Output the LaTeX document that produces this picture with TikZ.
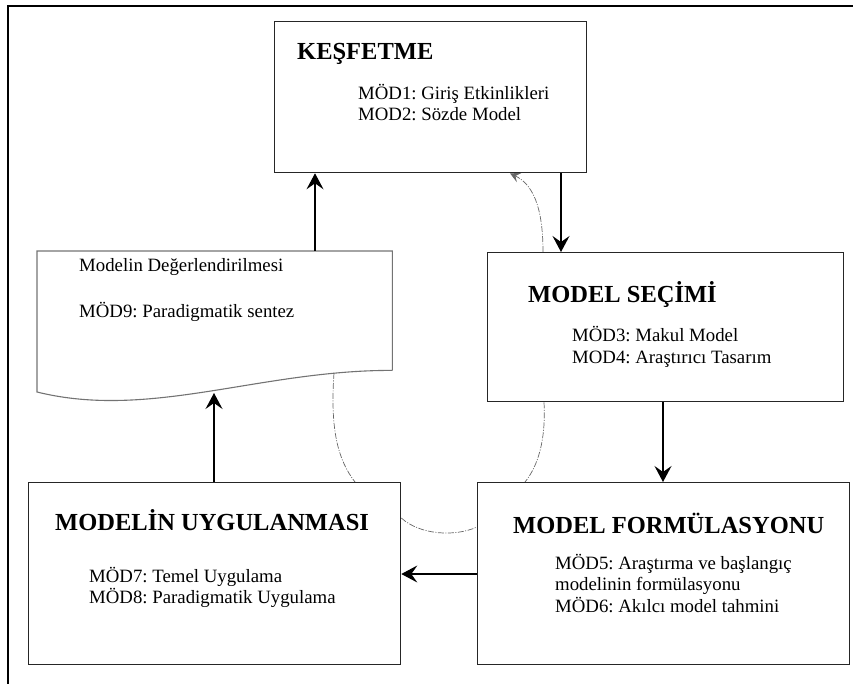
\documentclass[tikz,border=0pt]{standalone}
\usepackage{fontspec}
\setmainfont{Liberation Serif}
\usetikzlibrary{arrows.meta}
\frenchspacing
\begin{document}
\begin{tikzpicture}[x=1pt,y=-1pt,
  stagebox/.style={draw=black!85, line width=1.3pt, inner sep=0pt, anchor=north west},
  heading/.style={anchor=base west, inner sep=0pt, font=\fontsize{24.5}{28}\selectfont\bfseries},
  body/.style={anchor=base west, inner sep=0pt, font=\fontsize{18.8}{21.5}\selectfont\frenchspacing},
  arr/.style={line width=1.2pt, -{Stealth[length=16pt, width=17pt, inset=6pt]}},
  loop/.style={draw=black!60, line width=0.7pt, dash pattern=on 6pt off 1.5pt on 1pt off 1.5pt}
]
\useasboundingbox (0,0) rectangle (853,684);

% outer frame (top and left sides only)
\draw[line width=1.6pt] (8,684) -- (8,6) -- (853,6);

% stage boxes
\node[stagebox, minimum width=312pt, minimum height=151pt] (kesf) at (274,21) {};
\node[stagebox, minimum width=356pt, minimum height=149pt] (secim) at (487,252) {};
\node[stagebox, minimum width=372pt, minimum height=182pt] (form) at (477,482) {};
\node[stagebox, minimum width=372pt, minimum height=182pt] (uyg) at (28,482) {};

% evaluation document with wavy lower edge
\node[anchor=north west, inner sep=0pt, minimum width=355pt, minimum height=119pt] (doc) at (37,251) {};
\draw[draw=black!55, line width=1.1pt] (doc.south east) -- (doc.north east) -- (doc.north west) -- (37,392)
  .. controls (150,420) and (260,370) .. (doc.south east);
\coordinate (docwave) at (214,393);

% texts
\node[heading] (t1) at (297,60) {KEŞFETME};
\node[body] (b1a) at (358,100) {MÖD1: Giriş Etkinlikleri};
\node[body] (b1b) at (358,121) {MOD2: Sözde Model};

\node[heading] (t2) at (528,302) {MODEL SEÇİMİ};
\node[body] (b2a) at (572,341) {MÖD3: Makul Model};
\node[body] (b2b) at (572,363) {MOD4: Araştırıcı Tasarım};

\node[heading] (t3) at (513,533) {MODEL FORMÜLASYONU};
\node[body] (b3a) at (555,569) {MÖD5: Araştırma ve başlangıç};
\node[body] (b3b) at (555,590) {modelinin formülasyonu};
\node[body] (b3c) at (555,612) {MÖD6: Akılcı model tahmini};

\node[heading] (t4) at (55,530) {MODELİN UYGULANMASI};
\node[body] (b4a) at (89,582) {MÖD7: Temel Uygulama};
\node[body] (b4b) at (89,603) {MÖD8: Paradigmatik Uygulama};

\node[body] (t5) at (79,272) {Modelin Değerlendirilmesi};
\node[body] (b5) at (79,317) {MÖD9: Paradigmatik sentez};

% main cycle
\draw[arr] (561,0 |- kesf.south) -- (561,0 |- secim.north);
\draw[arr] (663,0 |- secim.south) -- (663,0 |- form.north);
\draw[arr] (0,574 -| form.west) -- (0,574 -| uyg.east);
\draw[arr] (214,0 |- uyg.north) -- (docwave);
\draw[arr] (315,0 |- doc.north) -- (315,0 |- kesf.south);

% dash-dotted links
\draw[loop, -{Stealth[length=10pt, width=10pt, inset=4pt]}] (543,0 |- secim.north)
  .. controls (543,205) and (532,184) .. (510,0 |- kesf.south);
\draw[loop] (334,373) .. controls (330,430) and (338,460) .. (355,0 |- uyg.north);
\draw[loop] (544,0 |- secim.south) .. controls (546,440) and (538,466) .. (525,0 |- form.north);
\draw[loop] (0,518 -| uyg.east) .. controls (420,535) and (455,537) .. (0,527 -| form.west);
\end{tikzpicture}
\end{document}
